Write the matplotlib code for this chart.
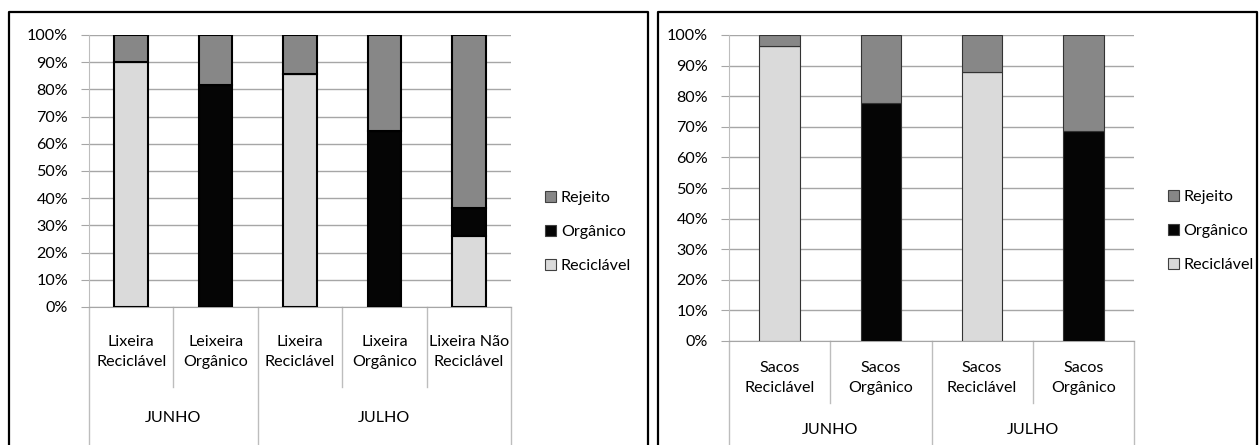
import matplotlib; matplotlib.use("Agg")
import matplotlib.pyplot as plt
from matplotlib.patches import Patch
from matplotlib.lines import Line2D
import numpy as np

plt.rcParams['font.family'] = ['Lato', 'DejaVu Sans']
FS = 11.6

# --- data (percent of each bin) ---
left_cats = ["Lixeira\nReciclável", "Leixeira\nOrgânico", "Lixeira\nReciclável", "Lixeira\nOrgânico", "Lixeira Não\nReciclável"]
left_groups = ["JUNHO", "JULHO"]
left_group_sizes = [2, 3]
left_recic = [90.2, 0.0, 85.7, 0.0, 26.1]
left_org = [0.0, 81.5, 0.0, 64.8, 10.4]
left_rej = [9.8, 18.5, 14.3, 35.2, 63.5]

right_cats = ["Sacos\nReciclável", "Sacos\nOrgânico", "Sacos\nReciclável", "Sacos\nOrgânico"]
right_groups = ["JUNHO", "JULHO"]
right_group_sizes = [2, 2]
right_recic = [96.5, 0.0, 87.9, 0.0]
right_org = [0.0, 77.8, 0.0, 68.7]
right_rej = [3.5, 22.2, 12.1, 31.3]

series = ["Reciclável", "Orgânico", "Rejeito"]
colors = ["#dadada", "#050505", "#878787"]

W, H = 1259, 445
fig = plt.figure(figsize=(W / 100, H / 100), dpi=100)

def px_axes(x0, y0, x1, y1):
    return fig.add_axes([x0 / W, 1 - y1 / H, (x1 - x0) / W, (y1 - y0) / H])

# outer frames
for x0, x1 in [(9, 648), (658, 1257)]:
    fig.add_artist(Line2D([x0 / W, x0 / W, x1 / W, x1 / W], [-0.1, 1 - 12 / H, 1 - 12 / H, -0.1],
                          transform=fig.transFigure, color="black", lw=1.6))


def draw(ax, cats, groups, sizes, recic, org, rej, width, ec, elw, cat_y, grp_y, inner_y, outer_y):
    n = len(cats)
    x = np.arange(n)
    bottom = np.zeros(n)
    for vals, c in zip([recic, org, rej], colors):
        v = np.array(vals)
        ax.bar(x, v, width, bottom=bottom, color=c, edgecolor=ec, linewidth=elw, zorder=3)
        bottom += v
    ax.set_xlim(-0.5, n - 0.5)
    ax.set_ylim(0, 100)
    ax.set_yticks(np.arange(0, 101, 10))
    ax.set_yticklabels([f"{t}%" for t in range(0, 101, 10)], fontsize=FS)
    ax.yaxis.grid(True, color="#a6a6a6", lw=1, zorder=0)
    ax.tick_params(axis="y", length=6, color="#a6a6a6", pad=9)
    ax.set_xticks([])
    for s in ["top", "right"]:
        ax.spines[s].set_visible(False)
    ax.spines["left"].set_color("#bdbdbd")
    ax.spines["bottom"].set_color("#a6a6a6")
    tr = ax.get_xaxis_transform()
    # category labels
    for i, c in enumerate(cats):
        ax.text(i, cat_y, c, transform=tr, ha="center", va="center", fontsize=FS, linespacing=1.5)
    # separators
    edges = np.cumsum([0] + sizes)
    for k in range(n + 1):
        yb = outer_y if k in edges else inner_y
        ax.plot([k - 0.5, k - 0.5], [0, yb], transform=tr, color="#bdbdbd", lw=1, clip_on=False)
    for g, a, b in zip(groups, edges[:-1], edges[1:]):
        ax.text((a + b - 1) / 2, grp_y, g, transform=tr, ha="center", va="center", fontsize=FS)


ax1 = px_axes(89, 35, 511, 307)
draw(ax1, left_cats, left_groups, left_group_sizes, left_recic, left_org, left_rej,
     0.40, "black", 1.5, -0.165, -0.408, -0.294, -0.52)

ax2 = px_axes(729, 35, 1134, 341)
draw(ax2, right_cats, right_groups, right_group_sizes, right_recic, right_org, right_rej,
     0.40, "#333333", 0.8, -0.121, -0.291, -0.203, -0.35)

handles = [Patch(facecolor=c, edgecolor="#404040", lw=0.8) for c in colors][::-1]
labels = series[::-1]
for xl, yc in [(539, 232), (1162, 231)]:
    fig.legend(handles, labels, loc="center left", bbox_to_anchor=(xl / W, 1 - yc / H),
               frameon=False, fontsize=FS, handlelength=0.65, handleheight=0.65,
               handletextpad=0.3, labelspacing=1.25, borderaxespad=0)

fig.savefig("out.png", dpi=100)
